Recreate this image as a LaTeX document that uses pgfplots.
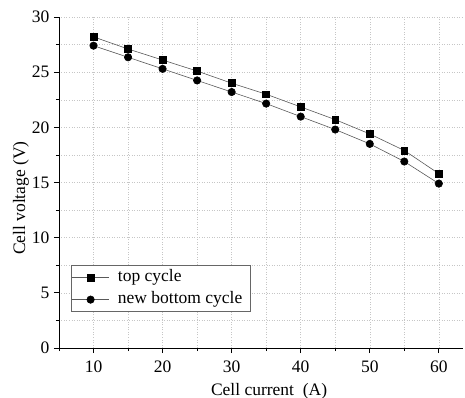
\documentclass[border=0pt]{standalone}
\usepackage{fontspec}
\setmainfont{Liberation Serif}
\usepackage{pgfplots}
\pgfplotsset{compat=1.18}
\begin{document}
\begin{tikzpicture}
\begin{axis}[
  name=ax,
  scale only axis,
  width=404pt, height=331pt,
  xmin=5, xmax=63.5, ymin=0, ymax=30,
  axis lines*=left,
  axis line style={black, line width=0.8pt},
  xtick={10,20,...,60}, minor xtick={5,15,...,55},
  ytick={0,5,...,30}, minor ytick={2.5,7.5,...,27.5},
  tick align=outside,
  major tick length=5pt, minor tick length=3pt,
  tick style={black, line width=0.8pt},
  grid=both,
  major grid style={dash pattern=on 1pt off 1.5pt, gray!45, line width=0.45pt},
  minor grid style={dash pattern=on 1pt off 1.5pt, gray!45, line width=0.45pt},
  /pgf/number format/assume math mode=true,
  ticklabel style={font=\fontsize{17.5}{19}\selectfont},
  xticklabel style={yshift=-4pt},
  yticklabel style={xshift=-1pt},
  label style={font=\fontsize{17.5}{19}\selectfont},
  xlabel={Cell current~~(A)},
  ylabel={Cell voltage (V)},
  xlabel style={at={(axis description cs:0.52,-0.142)}, anchor=base},
  ylabel style={at={(axis description cs:-0.094,0.453)}, anchor=center},
  legend style={at={(axis description cs:0.0297,0.109)}, anchor=south west, draw=gray!80!black, line width=0.6pt,
    font=\fontsize{17.5}{19}\selectfont, row sep=6pt, column sep=9pt,
    inner xsep=8pt, inner ysep=4pt,
    nodes={inner sep=0pt, text height=12pt, text depth=4pt}},
  legend cell align=left,
  legend image code/.code={%
    \path (0pt,0pt) (29pt,0pt);
    \draw[#1, overlay, mark repeat=2, mark phase=2] plot coordinates {(-8pt,0pt) (11pt,0pt) (29pt,0pt)};},
]
\addplot[gray!70!black, line width=0.6pt, mark=square*, mark options={black, solid}, mark size=3.4pt]
coordinates {(10,28.2) (15,27.1) (20,26.1) (25,25.1) (30,24.0) (35,23.0) (40,21.85) (45,20.7) (50,19.4) (55,17.9) (60,15.8)};
\addlegendentry{top cycle}
\addplot[gray!70!black, line width=0.6pt, mark=*, mark options={black, solid}, mark size=3.7pt]
coordinates {(10,27.4) (15,26.35) (20,25.3) (25,24.25) (30,23.2) (35,22.15) (40,20.97) (45,19.8) (50,18.5) (55,16.9) (60,14.9)};
\addlegendentry{new bottom cycle}
\end{axis}
\pgfresetboundingbox
\path (ax.south west) ++(-59pt,-50pt) rectangle ++(465pt,398pt);
\end{tikzpicture}
\end{document}
